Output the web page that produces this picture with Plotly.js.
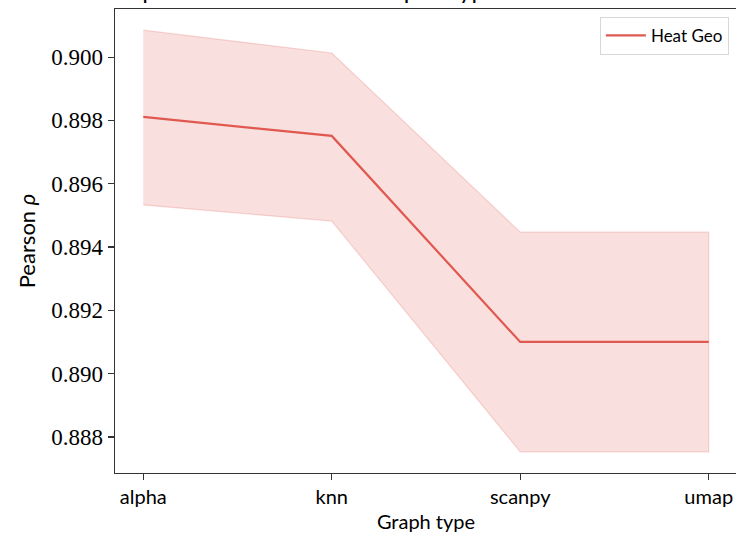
<!DOCTYPE html>
<html>
<head>
<meta charset="utf-8">
<script src="https://cdn.plot.ly/plotly-3.0.1.min.js"></script>
<style>
html,body{margin:0;padding:0;overflow:hidden;background:#fff;}
#chart{width:740px;height:542px;}
</style>
</head>
<body>
<div id="chart"></div>
<script>
const graphTypes = ["alpha", "knn", "scanpy", "umap"];
const meanRho = [0.89811, 0.89751, 0.89100, 0.89100];
const upperRho = [0.90085, 0.90013, 0.89447, 0.89447];
const lowerRho = [0.89533, 0.89482, 0.88753, 0.88753];
const yTickVals = [0.888, 0.890, 0.892, 0.894, 0.896, 0.898, 0.900];
const yTickText = ["0.888", "0.890", "0.892", "0.894", "0.896", "0.898", "0.900"];
const seriesName = "Heat Geo";
const titleText = "Pearson ρ of estimated distances per  type";

const lineColor = "#e0584f";
const bandX = graphTypes.concat(graphTypes.slice().reverse());
const bandY = upperRho.concat(lowerRho.slice().reverse());

const traces = [
  {
    x: bandX, y: bandY, type: "scatter", mode: "lines",
    fill: "toself", fillcolor: "rgba(224,88,79,0.19)",
    line: {color: "rgba(224,88,79,0.22)", width: 1.2},
    hoverinfo: "skip", showlegend: false
  },
  {
    x: graphTypes, y: meanRho, type: "scatter", mode: "lines",
    name: seriesName, line: {color: lineColor, width: 2.2}
  }
];

const sans = "Lato, 'DejaVu Sans', sans-serif";
const serif = "'Liberation Serif', 'DejaVu Serif', serif";

const layout = {
  width: 740, height: 542,
  margin: {l: 115, r: 3, t: 9, b: 69},
  paper_bgcolor: "#fff", plot_bgcolor: "#fff",
  annotations: [{
    text: titleText, showarrow: false,
    xref: "paper", yref: "paper", x: -0.1045, y: 1,
    xanchor: "left", yanchor: "bottom", yshift: 3,
    font: {family: sans, size: 24, color: "#000"}
  }],
  xaxis: {
    type: "category", range: [-0.15, 3.15],
    showgrid: false, zeroline: false,
    showline: true, linecolor: "#333", linewidth: 1.3, mirror: true,
    ticks: "outside", ticklen: 6, tickwidth: 1.2, tickcolor: "#333",
    tickfont: {family: sans, size: 20, color: "#000"},
    title: {text: "Graph type", font: {family: sans, size: 20, color: "#000"}, standoff: 7}
  },
  yaxis: {
    range: [0.88686, 0.90152],
    tickvals: yTickVals, ticktext: yTickText,
    showgrid: false, zeroline: false,
    showline: true, linecolor: "#333", linewidth: 1.3, mirror: true,
    ticks: "outside", ticklen: 6, tickwidth: 1.2, tickcolor: "#333",
    tickfont: {family: serif, size: 23, color: "#000"},
    title: {text: "Pearson <i>ρ</i>", font: {family: sans, size: 22, color: "#000"}, standoff: 9}
  },
  legend: {
    x: 0.987, y: 0.983, xanchor: "right", yanchor: "top",
    bgcolor: "rgba(255,255,255,0.8)", bordercolor: "#d8d8d8", borderwidth: 1,
    font: {family: sans, size: 17, color: "#000"},
    itemwidth: 40
  },
  showlegend: true
};

Plotly.newPlot("chart", traces, layout, {displayModeBar: false, staticPlot: true});
</script>
</body>
</html>
